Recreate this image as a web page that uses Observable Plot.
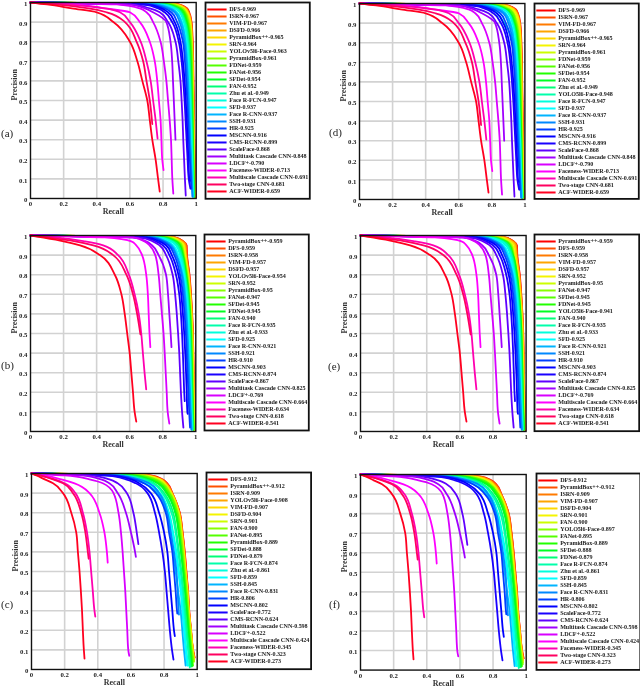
<!DOCTYPE html>
<html><head><meta charset="utf-8">
<script src="https://cdn.jsdelivr.net/npm/d3@7"></script>
<script src="https://cdn.jsdelivr.net/npm/@observablehq/plot@0.6"></script>
<style>
html,body{margin:0;padding:0;background:#fff}
#root{position:relative;width:640px;height:688px;overflow:hidden;font-family:"Liberation Serif",serif;filter:blur(.3px)}
#root svg{position:absolute;background:transparent;overflow:visible}
.tag{position:absolute;font-size:11px;line-height:12px;color:#222}
.legendText text{letter-spacing:-.06px}
</style></head><body><div id="root"></div>
<script>
const rowColors = ["#ff0000","#ff5000","#ff7a00","#ffa500","#ffd800","#f4f400","#ccff00","#88ff00","#55ff00","#22ff00","#00ff22","#00ff77","#00ffaa","#00ffdd","#00ffff","#00b4ff","#0088ff","#0040ff","#0000ff","#1a00ff","#6000ff","#a000ff","#d800ff","#ff00ff","#ff00b0","#ff0060","#ff0020"];
const precisionLevels = [.99,.97,.95,.9,.8,.7,.6,.5,.4,.3,.2,.1];
const methods = ["DFS","PyramidBox++","ISRN","VIM-FD","DSFD","SRN","YOLOv5l6-Face","YOLO5l6-Face","PyramidBox","FDNet","FANet","SFDet","FAN","Zhu et al.","Face R-FCN","SFD","Face R-CNN","SSH","HR","MSCNN","CMS-RCNN","ScaleFace","Multitask Cascade CNN","LDCF+","Faceness-WIDER","Multiscale Cascade CNN","Two-stage CNN","ACF-WIDER"];

const easyRecalls = [
[.895,.945,.958,.972,.979,.982,.984,.986,.988,.99,.992,.994,.997],
[.875,.93,.948,.966,.974,.978,.98,.981,.983,.985,.987,.989,.992],
[.89,.94,.955,.97,.977,.98,.982,.984,.986,.988,.99,.992,.995],
[.885,.94,.955,.969,.977,.98,.982,.984,.985,.987,.989,.991,.994],
[.88,.935,.95,.967,.975,.978,.98,.982,.984,.986,.988,.99,.993],
[.87,.925,.945,.963,.972,.976,.978,.98,.982,.984,.986,.988,.99],
[.86,.92,.94,.96,.972,.975,.977,.979,.981,.983,.985,.987,.99],
[.72,.8,.83,.875,.93,.95,.958,.963,.968,.972,.976,.98,.985],
[.85,.915,.935,.955,.97,.974,.976,.978,.98,.982,.984,.986,.988],
[.84,.905,.93,.95,.966,.972,.975,.977,.979,.981,.983,.985,.988],
[.83,.9,.925,.945,.962,.968,.971,.974,.977,.98,.982,.985,.987],
[.82,.89,.915,.94,.958,.965,.969,.972,.975,.978,.98,.983,.986],
[.81,.885,.91,.935,.955,.962,.966,.97,.973,.976,.979,.982,.985],
[.8,.875,.905,.93,.95,.958,.963,.967,.97,.974,.977,.98,.984],
[.79,.87,.9,.925,.945,.955,.96,.964,.968,.972,.975,.978,.982],
[.77,.85,.885,.915,.938,.948,.954,.959,.964,.968,.972,.976,.98],
[.76,.845,.88,.91,.935,.945,.952,.957,.961,.965,.97,.974,.98],
[.74,.83,.87,.9,.928,.94,.947,.952,.957,.962,.967,.972,.977],
[.72,.81,.85,.885,.92,.932,.94,.946,.951,.956,.962,.968,.97],
[.7,.79,.83,.87,.905,.92,.93,.937,.943,.948,.953,.958,.962],
[.68,.77,.81,.855,.895,.912,.922,.93,.936,.942,.948,.955,.965],
[.6,.72,.78,.83,.875,.892,.905,.912,.918,.922,.927,.932,.937],
[.6,.69,.74,.82,.845,.855,.86,.865,.87,.875],
[.52,.66,.7,.74,.785,.805,.82,.83,.84,.848,.852,.856,.862],
[.25,.45,.6,.66,.72,.75,.765,.775,.785,.79,.795,.803],
[.22,.45,.54,.6,.665,.7,.725,.74,.755,.767],
[.15,.35,.46,.57,.64,.68,.7,.72,.735],
[.1,.25,.4,.5,.6,.645,.675,.705,.72,.735,.755,.77,.78]];
const easyEnds = [.005,.005,.005,.01,.01,.01,.01,.01,.01,.01,.01,.01,.01,.01,.01,.01,.01,.01,.05,.09,.05,.015,.3,.025,.145,.305,.38,.035];

const mediumRecalls = [
[.87,.925,.94,.945,.96,.97,.977,.982,.985,.987,.989,.992,.995],
[.875,.925,.945,.947,.962,.971,.978,.983,.985,.987,.99,.993,.996],
[.865,.92,.94,.943,.958,.969,.976,.981,.984,.986,.988,.991,.994],
[.86,.915,.935,.94,.957,.967,.975,.98,.983,.985,.987,.99,.993],
[.86,.91,.93,.938,.955,.966,.974,.979,.982,.984,.986,.989,.992],
[.84,.895,.92,.93,.95,.962,.971,.976,.979,.982,.984,.987,.99],
[.845,.9,.925,.935,.953,.964,.972,.977,.98,.983,.985,.988,.99],
[.76,.85,.88,.92,.945,.957,.966,.972,.975,.978,.98,.984,.988],
[.83,.89,.915,.928,.948,.96,.968,.974,.977,.98,.982,.985,.988],
[.8,.875,.9,.92,.94,.955,.963,.968,.972,.975,.978,.981,.985],
[.82,.885,.91,.925,.945,.958,.966,.972,.975,.978,.98,.983,.987],
[.81,.88,.905,.922,.942,.956,.965,.97,.973,.976,.979,.982,.986],
[.79,.865,.895,.915,.936,.952,.96,.966,.97,.973,.976,.979,.983],
[.77,.85,.88,.905,.93,.945,.955,.96,.965,.968,.971,.974,.978],
[.78,.855,.885,.91,.933,.948,.957,.962,.966,.97,.973,.976,.98],
[.755,.83,.865,.895,.925,.94,.95,.955,.96,.964,.968,.972,.977],
[.75,.82,.855,.885,.92,.936,.945,.951,.956,.961,.966,.97,.975],
[.74,.81,.845,.88,.915,.93,.94,.947,.952,.957,.962,.967,.973],
[.72,.8,.835,.87,.905,.922,.932,.94,.945,.95,.955,.96,.965],
[.7,.78,.82,.855,.895,.912,.922,.93,.936,.941,.945,.949,.951],
[.68,.76,.8,.84,.88,.9,.91,.917,.922,.926,.93,.933],
[.66,.74,.78,.82,.86,.875,.885,.893,.9,.905,.91,.917,.925],
[.62,.7,.735,.775,.82,.832,.84,.848,.853],
[.62,.69,.72,.755,.775,.785,.795,.805,.812,.818,.824,.83,.84],
[.15,.33,.44,.53,.595,.63,.655,.67,.68,.69,.7],
[.45,.61,.64,.675,.7,.71,.715,.72,.725],
[.1,.27,.38,.5,.58,.62,.645,.665],
[.07,.2,.3,.42,.51,.55,.57,.585,.6,.61,.62,.63,.64]];
const mediumEnds = [.01,.005,.01,.01,.01,.01,.01,.01,.01,.01,.01,.01,.01,.01,.01,.01,.01,.01,.02,.09,.155,.02,.43,.04,.215,.43,.495,.05];

const hardRecalls = [
[.72,.79,.82,.85,.895,.912,.925,.935,.945,.952,.963,.975,.985],
[.71,.785,.815,.85,.894,.911,.924,.934,.944,.951,.963,.975,.983],
[.7,.78,.812,.848,.892,.91,.922,.932,.943,.95,.962,.974,.982],
[.69,.775,.805,.845,.89,.907,.92,.93,.941,.949,.961,.973,.98],
[.68,.77,.8,.842,.887,.905,.918,.929,.94,.948,.96,.972,.98],
[.67,.76,.795,.84,.885,.903,.917,.928,.938,.947,.958,.97,.98],
[.695,.78,.81,.847,.891,.908,.921,.931,.942,.95,.962,.974,.982],
[.6,.72,.77,.825,.875,.893,.907,.92,.93,.94,.95,.965,.98],
[.61,.72,.77,.82,.87,.89,.904,.917,.928,.938,.948,.96,.97],
[.57,.69,.74,.8,.855,.875,.89,.905,.917,.928,.938,.95,.96],
[.63,.74,.78,.83,.877,.895,.909,.921,.932,.942,.952,.964,.975],
[.6,.71,.76,.815,.868,.888,.902,.915,.926,.936,.946,.958,.968],
[.65,.75,.79,.835,.882,.9,.914,.925,.936,.945,.956,.968,.98],
[.53,.65,.71,.775,.83,.855,.875,.89,.905,.915,.925,.935,.945],
[.55,.67,.73,.79,.845,.87,.885,.9,.912,.922,.932,.945,.955],
[.52,.64,.7,.77,.825,.85,.87,.885,.9,.91,.92,.93,.94],
[.52,.65,.71,.77,.82,.84,.86,.875,.882,.888,.89],
[.5,.62,.68,.76,.815,.84,.855,.87,.885,.9,.91,.92,.93],
[.5,.62,.68,.75,.81,.83,.85,.86,.87,.878,.88],
[.47,.6,.65,.72,.77,.8,.82,.83,.84,.85,.86,.865],
[.35,.47,.52,.575,.615,.635,.645],
[.45,.57,.63,.7,.745,.77,.79,.805,.815,.825,.835,.848,.857],
[.3,.42,.47,.52,.57,.6,.625,.63],
[.2,.35,.43,.495,.525,.54,.55,.558,.566,.572,.578,.584,.59],
[.05,.14,.2,.265,.31,.335,.35,.36,.37,.38,.385],
[.08,.18,.26,.35,.41,.44,.455,.46],
[.05,.13,.19,.25,.3,.325,.34,.345],
[.03,.08,.13,.19,.24,.27,.28,.29,.298,.305,.31,.316,.32]];
const hardEnds = [.06,.06,.05,.05,.05,.04,.05,.03,.02,.015,.02,.015,.04,.02,.01,.02,.28,.02,.285,.17,.64,.05,.575,.07,.27,.545,.565,.055];

const panelALabels = ["DFS-0.969","ISRN-0.967","VIM-FD-0.967","DSFD-0.966","PyramidBox++-0.965","SRN-0.964","YOLOv5l6-Face-0.963","PyramidBox-0.961","FDNet-0.959","FANet-0.956","SFDet-0.954","FAN-0.952","Zhu et al.-0.949","Face R-FCN-0.947","SFD-0.937","Face R-CNN-0.937","SSH-0.931","HR-0.925","MSCNN-0.916","CMS-RCNN-0.899","ScaleFace-0.868","Multitask Cascade CNN-0.848","LDCF+-0.790","Faceness-WIDER-0.713","Multiscale Cascade CNN-0.691","Two-stage CNN-0.681","ACF-WIDER-0.659"];
const panelDLabels = ["DFS-0.969","ISRN-0.967","VIM-FD-0.967","DSFD-0.966","PyramidBox++-0.965","SRN-0.964","PyramidBox-0.961","FDNet-0.959","FANet-0.956","SFDet-0.954","FAN-0.952","Zhu et al.-0.949","YOLO5l6-Face-0.948","Face R-FCN-0.947","SFD-0.937","Face R-CNN-0.937","SSH-0.931","HR-0.925","MSCNN-0.916","CMS-RCNN-0.899","ScaleFace-0.868","Multitask Cascade CNN-0.848","LDCF+-0.790","Faceness-WIDER-0.713","Multiscale Cascade CNN-0.691","Two-stage CNN-0.681","ACF-WIDER-0.659"];
const panelBLabels = ["PyramidBox++-0.959","DFS-0.959","ISRN-0.958","VIM-FD-0.957","DSFD-0.957","YOLOv5l6-Face-0.954","SRN-0.952","PyramidBox-0.95","FANet-0.947","SFDet-0.945","FDNet-0.945","FAN-0.940","Face R-FCN-0.935","Zhu et al.-0.933","SFD-0.925","Face R-CNN-0.921","SSH-0.921","HR-0.910","MSCNN-0.903","CMS-RCNN-0.874","ScaleFace-0.867","Multitask Cascade CNN-0.825","LDCF+-0.769","Multiscale Cascade CNN-0.664","Faceness-WIDER-0.634","Two-stage CNN-0.618","ACF-WIDER-0.541"];
const panelELabels = ["PyramidBox++-0.959","DFS-0.959","ISRN-0.958","VIM-FD-0.957","DSFD-0.957","SRN-0.952","PyramidBox-0.95","FANet-0.947","SFDet-0.945","FDNet-0.945","YOLO5l6-Face-0.941","FAN-0.940","Face R-FCN-0.935","Zhu et al.-0.933","SFD-0.925","Face R-CNN-0.921","SSH-0.921","HR-0.910","MSCNN-0.903","CMS-RCNN-0.874","ScaleFace-0.867","Multitask Cascade CNN-0.825","LDCF+-0.769","Multiscale Cascade CNN-0.664","Faceness-WIDER-0.634","Two-stage CNN-0.618","ACF-WIDER-0.541"];
const panelCLabels = ["DFS-0.912","PyramidBox++-0.912","ISRN-0.909","YOLOv5l6-Face-0.908","VIM-FD-0.907","DSFD-0.904","SRN-0.901","FAN-0.900","FANet-0.895","PyramidBox-0.889","SFDet-0.888","FDNet-0.879","Face R-FCN-0.874","Zhu et al.-0.861","SFD-0.859","SSH-0.845","Face R-CNN-0.831","HR-0.806","MSCNN-0.802","ScaleFace-0.772","CMS-RCNN-0.624","Multitask Cascade CNN-0.598","LDCF+-0.522","Multiscale Cascade CNN-0.424","Faceness-WIDER-0.345","Two-stage CNN-0.323","ACF-WIDER-0.273"];
const panelFLabels = ["DFS-0.912","PyramidBox++-0.912","ISRN-0.909","VIM-FD-0.907","DSFD-0.904","SRN-0.901","FAN-0.900","YOLO5l6-Face-0.897","FANet-0.895","PyramidBox-0.889","SFDet-0.888","FDNet-0.879","Face R-FCN-0.874","Zhu et al.-0.861","SFD-0.859","SSH-0.845","Face R-CNN-0.831","HR-0.806","MSCNN-0.802","ScaleFace-0.772","CMS-RCNN-0.624","Multitask Cascade CNN-0.598","LDCF+-0.522","Multiscale Cascade CNN-0.424","Faceness-WIDER-0.345","Two-stage CNN-0.323","ACF-WIDER-0.273"];

const xTicks = [0,.2,.4,.6,.8,1];
const yTicks = [0,.1,.2,.3,.4,.5,.6,.7,.8,.9,1];

const panels = [
 {tag:"(a)",labels:panelALabels,rec:easyRecalls,ends:easyEnds,box:[30.3,196,1.7,197.7],leg:[205,309.3,1.7,198],tagPos:[1,127]},
 {tag:"(d)",labels:panelDLabels,rec:easyRecalls,ends:easyEnds,box:[359.3,524.7,3,199],leg:[533.7,638,3.3,198.7],tagPos:[329,126]},
 {tag:"(b)",labels:panelBLabels,rec:mediumRecalls,ends:mediumEnds,box:[30,195.3,234.7,430.7],leg:[204,308.3,234,430],tagPos:[1,359]},
 {tag:"(e)",labels:panelELabels,rec:mediumRecalls,ends:mediumEnds,box:[359.7,525.3,234.7,430.7],leg:[534.3,639,234,430.7],tagPos:[328,360]},
 {tag:"(c)",labels:panelCLabels,rec:hardRecalls,ends:hardEnds,box:[31,196.7,472.7,668.7],leg:[205.7,310.3,472.3,669],tagPos:[1,598]},
 {tag:"(f)",labels:panelFLabels,rec:hardRecalls,ends:hardEnds,box:[360.3,526,473.7,669.3],leg:[535.7,639.5,473.3,669.7],tagPos:[329,598]}
];

const root = document.getElementById("root");
const FONT = '"Liberation Serif",serif';
const ML=30, MR=8, MT=6, MB=20;

function curvePoints(p, label, i){
  const method = label.slice(0,label.lastIndexOf("-"));
  const k = methods.indexOf(method);
  const r = p.rec[k];
  const pts = [{recall:0,precision:1,label,color:rowColors[i]}];
  r.forEach((v,j)=>pts.push({recall:v,precision:j===r.length-1?p.ends[k]:precisionLevels[j],label,color:rowColors[i]}));
  return pts;
}

for(const p of panels){
  const [l,r,t,b]=p.box;
  const data = p.labels.flatMap((lab,i)=>curvePoints(p,lab,i));
  const chart = Plot.plot({
    width:(r-l)+ML+MR, height:(b-t)+MT+MB,
    marginLeft:ML, marginRight:MR, marginTop:MT, marginBottom:MB,
    x:{domain:[0,1]}, y:{domain:[0,1]},
    style:{fontFamily:FONT,fontSize:"6.8px",fontWeight:"bold",color:"#222",background:"transparent"},
    marks:[
      Plot.ruleX(xTicks.slice(1,-1),{stroke:"#d2d2d2",strokeWidth:1.6}),
      Plot.ruleY(yTicks.slice(1,-1),{stroke:"#d2d2d2",strokeWidth:1.6}),
      Plot.line(data,{x:"recall",y:"precision",z:"label",stroke:"color",strokeWidth:1.8,curve:"monotone-y"}),
      Plot.frame({stroke:"#111",strokeWidth:1.4}),
      Plot.axisX({ticks:xTicks,tickSize:0,tickPadding:3,label:null,tickFormat:d=>String(d)}),
      Plot.axisY({ticks:yTicks,tickSize:0,tickPadding:3,label:null,dy:1.5,tickFormat:d=>String(d)}),
      Plot.text(["Recall"],{text:d=>d,frameAnchor:"bottom",dy:15.5,fontSize:8,fontWeight:"bold",fill:"#333"}),
      Plot.text(["Precision"],{text:d=>d,frameAnchor:"left",dx:-16,rotate:-90,fontSize:8,fontWeight:"bold",fill:"#333"})
    ]
  });
  chart.style.left=(l-ML)+"px"; chart.style.top=(t-MT)+"px";
  root.appendChild(chart);

  const [ll,lr,lt,lb]=p.leg;
  const rows = p.labels.map((label,i)=>({label,color:rowColors[i]}));
  const legend = Plot.plot({
    width:lr-ll, height:lb-lt,
    marginLeft:0, marginRight:0, marginTop:5, marginBottom:5,
    x:{domain:[0,1],axis:null},
    y:{type:"point",domain:p.labels,axis:null,padding:0},
    style:{fontFamily:FONT,background:"transparent"},
    marks:[
      Plot.ruleY(rows,{y:"label",x1:.022,x2:.207,stroke:"color",strokeWidth:2}),
      Plot.text(rows,{y:"label",x:.228,text:"label",textAnchor:"start",fontSize:6.1,fontWeight:"bold",fill:"#222"}),
      Plot.frame({stroke:"#111",strokeWidth:1.8,insetTop:-5,insetBottom:-5})
    ]
  });
  legend.classList.add("legendText");
  legend.style.left=ll+"px"; legend.style.top=lt+"px";
  root.appendChild(legend);

  const tag=document.createElement("div");
  tag.className="tag"; tag.textContent=p.tag;
  tag.style.left=p.tagPos[0]+"px"; tag.style.top=p.tagPos[1]+"px";
  root.appendChild(tag);
}
</script></body></html>
